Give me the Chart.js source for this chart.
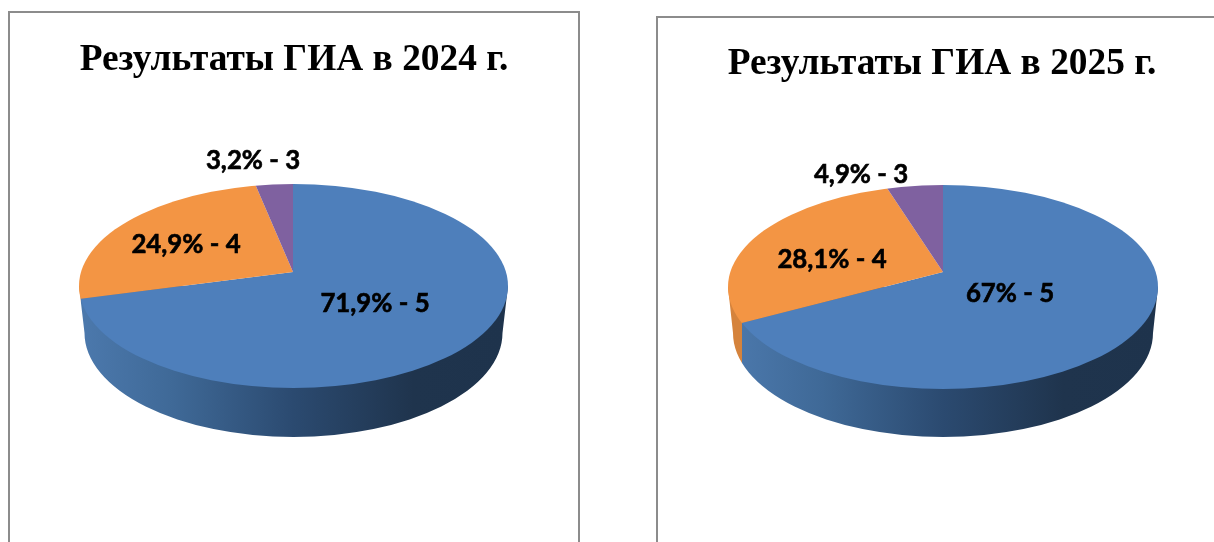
<!DOCTYPE html>
<html lang="ru">
<head>
<meta charset="utf-8">
<script src="https://cdn.jsdelivr.net/npm/chart.js@4"></script>
<style>
html,body{margin:0;padding:0;background:#fff;width:1214px;height:542px;overflow:hidden}
.box{position:absolute;box-sizing:border-box;width:572px;height:600px;border:2px solid #8c8c8c;background:#fff}
canvas{position:absolute;left:-2px;top:-2px}
</style>
</head>
<body>
<div class="box" style="left:8px;top:11px"><canvas id="c1" width="572" height="560"></canvas></div>
<div class="box" style="left:656px;top:16px"><canvas id="c2" width="572" height="560"></canvas></div>
<script>
const categories = ["5", "4", "3"];
const values2024 = [71.9, 24.9, 3.2];
const values2025 = [67, 28.1, 4.9];
const labels2024 = ["71,9% - 5", "24,9% - 4", "3,2% - 3"];
const labels2025 = ["67% - 5", "28,1% - 4", "4,9% - 3"];
const title2024 = "Результаты ГИА в 2024 г.";
const title2025 = "Результаты ГИА в 2025 г.";
const sliceColors = ["#4e7fbb", "#f39544", "#7f61a0"];

// Look of the tilted pie: canvas-relative pixels
const look2024 = {
  hub:{x:285,y:261}, rim:{x:285.5,y:275,rx:214.5,ry:102},
  base:{y:322,rx:209,ry:104}, kTop:0.473, kBottom:0.64,
  labelAt:[[367,293],[178,234],[245,149.5]]
};
const look2025 = {
  hub:{x:287,y:256}, rim:{x:287,y:271,rx:215,ry:102},
  base:{y:317,rx:210,ry:104}, kTop:0.477, kBottom:0.462,
  labelAt:[[354,277.5],[176,243.5],[205,158.5]]
};
const REACH = 320;

function rimX(look, angle){
  const dx = Math.cos(angle), dy = Math.sin(angle)*look.kBottom;
  const r = look.rim, ox = look.hub.x-r.x, oy = look.hub.y-r.y;
  const A = dx*dx/(r.rx*r.rx)+dy*dy/(r.ry*r.ry);
  const B = 2*(ox*dx/(r.rx*r.rx)+oy*dy/(r.ry*r.ry));
  const C = ox*ox/(r.rx*r.rx)+oy*oy/(r.ry*r.ry)-1;
  const t = (-B+Math.sqrt(B*B-4*A*C))/(2*A);
  return look.hub.x+t*dx;
}
function wallPath(ctx, look){
  const r = look.rim, b = look.base;
  ctx.beginPath();
  ctx.moveTo(r.x-r.rx, r.y);
  ctx.lineTo(r.x-b.rx, b.y);
  ctx.ellipse(r.x, b.y, b.rx, b.ry, 0, Math.PI, 0, true);
  ctx.lineTo(r.x+r.rx, r.y);
  ctx.closePath();
}
const tiltedPie = {
  id:"tiltedPie",
  beforeDatasetDraw(){ return false; },
  beforeDatasetsDraw(chart, args, opts){
    const look = opts.look, ctx = chart.ctx, arcs = chart.getDatasetMeta(0).data;
    const r = look.rim, first = arcs[0];
    const split = rimX(look, first.endAngle);
    // wall
    const blueWall = ctx.createLinearGradient(r.x-r.rx,0,r.x+r.rx,0);
    blueWall.addColorStop(0,"#4c79ad");
    blueWall.addColorStop(0.22,"#3f6997");
    blueWall.addColorStop(0.5,"#2b4a70");
    blueWall.addColorStop(0.78,"#1f344d");
    blueWall.addColorStop(1,"#1e334c");
    ctx.save(); ctx.beginPath(); ctx.rect(split,0,chart.width,chart.height); ctx.clip();
    wallPath(ctx,look); ctx.fillStyle=blueWall; ctx.fill(); ctx.restore();
    ctx.save(); ctx.beginPath(); ctx.rect(0,0,split,chart.height); ctx.clip();
    wallPath(ctx,look); ctx.fillStyle="#d5833c"; ctx.fill(); ctx.restore();
    // top face, two passes so the hub can sit above the middle of the rim
    const sx = REACH/first.outerRadius;
    [[0,look.hub.y,look.kTop],[look.hub.y,chart.height,look.kBottom]].forEach(([y0,y1,k])=>{
      ctx.save();
      ctx.beginPath(); ctx.ellipse(r.x,r.y,r.rx,r.ry,0,0,Math.PI*2); ctx.clip();
      ctx.beginPath(); ctx.rect(0,y0,chart.width,y1-y0); ctx.clip();
      ctx.translate(look.hub.x,look.hub.y); ctx.scale(sx,sx*k); ctx.translate(-first.x,-first.y);
      arcs.forEach(a=>a.draw(ctx));
      ctx.restore();
    });
  },
  afterDatasetsDraw(chart, args, opts){
    const ctx = chart.ctx;
    ctx.save();
    ctx.font = "bold 25.8px Lato"; ctx.fillStyle="#000"; ctx.strokeStyle="#000"; ctx.lineWidth=0.6;
    ctx.textAlign="center"; ctx.textBaseline="middle";
    opts.texts.forEach((t,i)=>{
      ctx.fillText(t,opts.look.labelAt[i][0],opts.look.labelAt[i][1]);
      ctx.strokeText(t,opts.look.labelAt[i][0],opts.look.labelAt[i][1]);
    });
    ctx.restore();
  }
};
function build(id, values, texts, title, look, titleTop){
  new Chart(document.getElementById(id),{
    type:"pie",
    data:{labels:categories,datasets:[{data:values,backgroundColor:sliceColors,borderWidth:0}]},
    options:{
      responsive:false, animation:false,
      plugins:{
        legend:{display:false}, tooltip:{enabled:false},
        title:{display:true,text:title,color:"#000",align:"center",
          font:{family:"Liberation Serif",size:37.4,weight:"bold"},padding:{top:titleTop,bottom:10}},
        tiltedPie:{look,texts}
      }
    },
    plugins:[tiltedPie]
  });
}
build("c1",values2024,labels2024,title2024,look2024,27);
build("c2",values2025,labels2025,title2025,look2025,26);
</script>
</body>
</html>
